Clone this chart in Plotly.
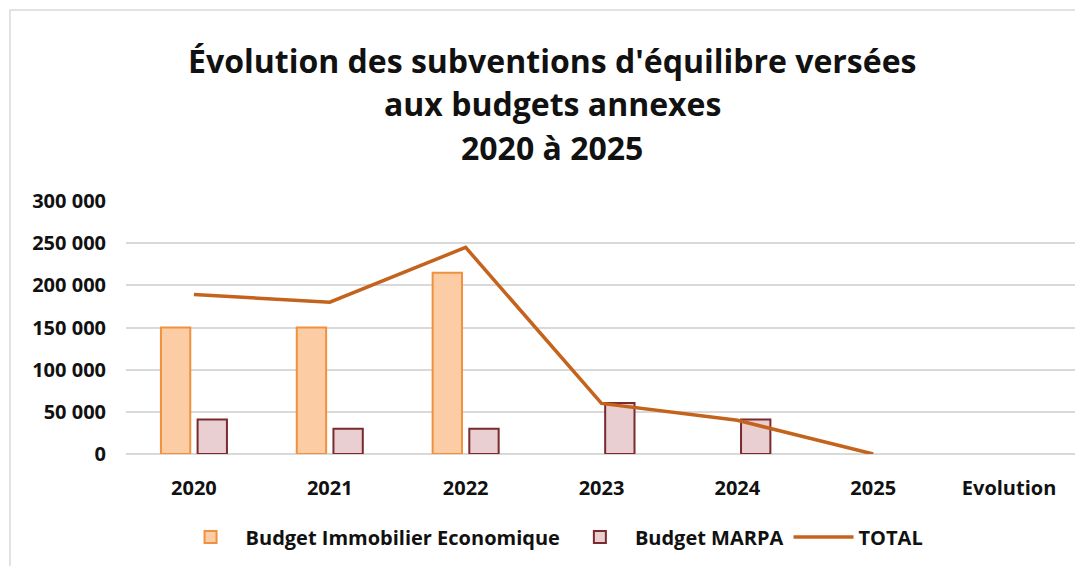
import plotly.graph_objects as go

categories = ["2020", "2021", "2022", "2023", "2024", "2025", "Evolution"]
immobilier = [150000, 150000, 215000, None, None, None, None]
marpa = [41000, 30000, 30000, 60500, 41000, None, None]
total = [189000, 180000, 245000, 60000, 40000, 0, None]
y_ticks = [0, 50000, 100000, 150000, 200000, 250000, 300000]
title_lines = ["Évolution des subventions d'équilibre versées", "aux budgets annexes", "2020 à 2025"]

FONT = "Open Sans"
INK = "#111111"

fig = go.Figure()
fig.add_trace(go.Bar(
    x=categories, y=immobilier, name="Budget Immobilier Economique",
    marker=dict(color="#FCCDA5", line=dict(color="#F0913E", width=2)),
))
fig.add_trace(go.Bar(
    x=categories, y=marpa, name="Budget MARPA",
    marker=dict(color="#E9CED2", line=dict(color="#7A2B2E", width=2)),
))
fig.add_trace(go.Scatter(
    x=categories, y=total, name="TOTAL", mode="lines",
    line=dict(color="#C4631C", width=3.5),
))

fig.update_layout(
    width=1083, height=566,
    paper_bgcolor="white", plot_bgcolor="white",
    separators=", ",
    margin=dict(l=118, r=14, t=193, b=120),
    barmode="group", bargap=0.46, bargroupgap=0.2,
    font=dict(family=FONT, color=INK),
    legend=dict(
        orientation="h", x=0.448, xanchor="center", y=-0.328, yanchor="middle",
        font=dict(family=FONT, size=20, color=INK, weight="bold"),
        itemwidth=60, traceorder="normal",
    ),
    showlegend=True,
)
# title lines
for line, ypos in zip(title_lines, [1.557, 1.387, 1.213]):
    fig.add_annotation(text=line, xref="paper", yref="paper", x=0.448, y=ypos,
                       xanchor="center", yanchor="middle", showarrow=False,
                       font=dict(family=FONT, size=32, color=INK, weight="bold"))

fig.update_xaxes(
    type="category", showgrid=False, showline=False, ticks="",
    tickfont=dict(family=FONT, size=20, color=INK, weight="bold"),
    ticklabelstandoff=20,
)
fig.update_yaxes(
    range=[0, 300000], tickvals=y_ticks, tickformat=",d",
    showgrid=True, gridcolor="#D9D9D9", gridwidth=1.5,
    zeroline=True, zerolinecolor="#D9D9D9", zerolinewidth=1.5,
    showline=False, ticks="",
    tickfont=dict(family=FONT, size=20, color=INK, weight="bold"),
    ticklabelstandoff=19,
)
fig.add_shape(type="rect", xref="paper", yref="paper",
              x0=-0.122, x1=0.999, y0=-0.46, y1=1.755,
              line=dict(color="#D9D9D9", width=1.5), fillcolor="rgba(0,0,0,0)", layer="below")

fig.write_html("out.html")
